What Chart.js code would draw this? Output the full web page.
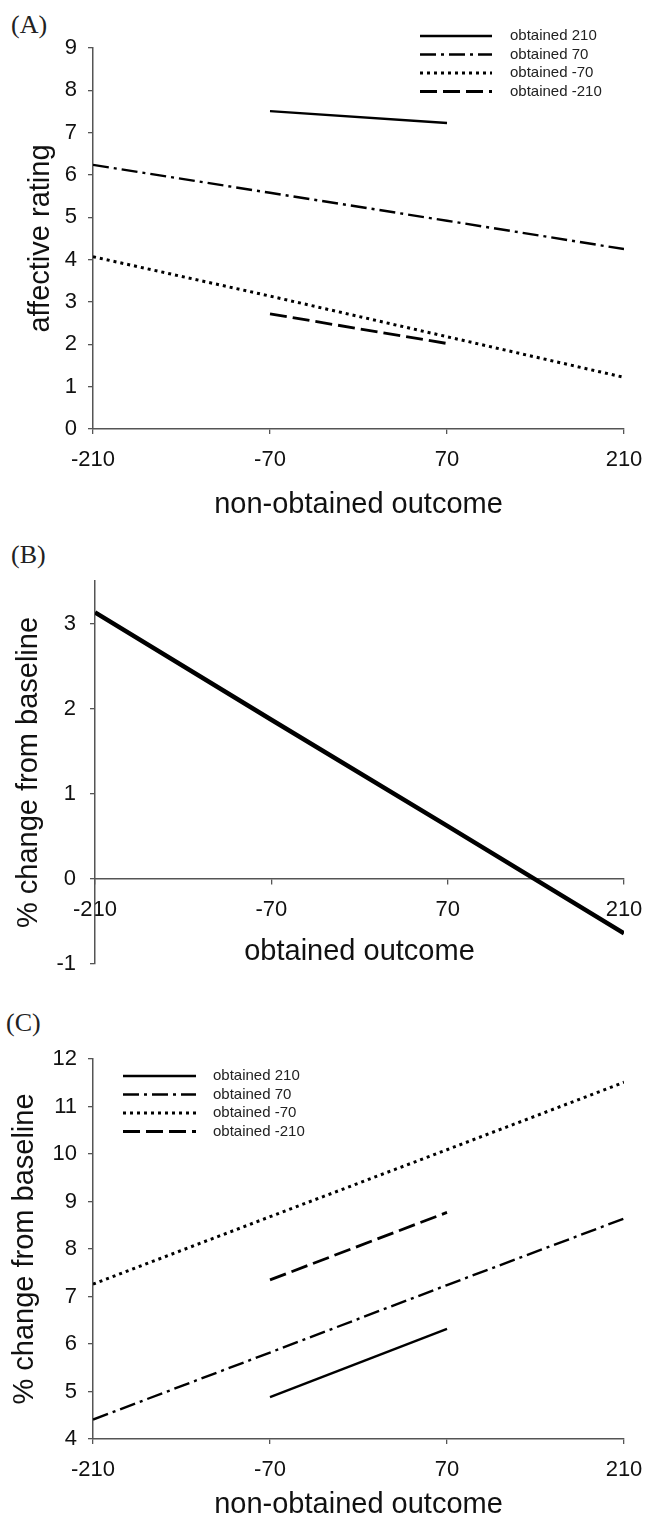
<!DOCTYPE html>
<html>
<head>
<meta charset="utf-8">
<script src="https://cdn.jsdelivr.net/npm/chart.js@4.4.1/dist/chart.umd.min.js"></script>
<style>
  body { margin: 0; background: #fff; width: 645px; height: 1526px; position: relative; overflow: hidden; }
  canvas { position: absolute; left: 0; }
  .tag { position: absolute; font-family: "Liberation Serif", serif; font-size: 26px; line-height: 26px; color: #222; }
</style>
</head>
<body>
<div class="tag" style="left:11px;top:12px">(A)</div>
<div class="tag" style="left:11px;top:542px">(B)</div>
<div class="tag" style="left:6px;top:1010px">(C)</div>
<canvas id="chartA" width="645" height="520" style="top:0"></canvas>
<canvas id="chartB" width="645" height="480" style="top:520px"></canvas>
<canvas id="chartC" width="645" height="526" style="top:1000px"></canvas>
<script>
// outcomes on the x axis
const xTicks = [-210, -70, 70, 210];
const seriesLabels = ["obtained 210", "obtained 70", "obtained -70", "obtained -210"];

// (A) affective rating vs non-obtained outcome
const ratingObt210 = [null, 7.51, 7.23, null];
const ratingObt70 = [6.24, 5.58, 4.92, 4.25];
const ratingObtM70 = [4.07, 3.14, 2.18, 1.22];
const ratingObtM210 = [null, 2.72, 2.02, null];
const yTicksA = [0, 1, 2, 3, 4, 5, 6, 7, 8, 9];

// (B) % change from baseline vs obtained outcome
const changeByObtained = [3.13, 1.87, 0.62, -0.64];
const yTicksB = [-1, 0, 1, 2, 3];

// (C) % change from baseline vs non-obtained outcome
const changeObt210 = [null, 4.88, 6.32, null];
const changeObt70 = [4.41, 5.82, 7.24, 8.64];
const changeObtM70 = [7.26, 8.68, 10.09, 11.51];
const changeObtM210 = [null, 7.35, 8.77, null];
const yTicksC = [4, 5, 6, 7, 8, 9, 10, 11, 12];

const axisColor = '#555';
const textColor = '#111';
Chart.defaults.font.family = '"Liberation Sans", Arial, sans-serif';
Chart.defaults.animation = false;

// solid, dash-dot, dotted, dashed
const lineDash = [[], [16, 5, 3, 5], [3, 4], [17, 6]];
const lineWidth = [2.4, 2.4, 3, 2.8];

function points(values) {
  return values.map((v, i) => ({x: xTicks[i], y: v}));
}

function fourLines(series) {
  return series.map((vals, i) => ({
    label: seriesLabels[i],
    data: points(vals),
    borderColor: '#000',
    borderWidth: lineWidth[i],
    borderDash: lineDash[i],
    pointRadius: 0,
    tension: 0,
    fill: false
  }));
}

const lineLegend = {
  id: 'lineLegend',
  afterDraw(chart, args, opts) {
    if (!opts.show) return;
    const ctx = chart.ctx;
    ctx.save();
    chart.data.datasets.forEach((ds, i) => {
      const y = opts.y + i * opts.rowH;
      ctx.beginPath();
      ctx.setLineDash(ds.borderDash);
      ctx.lineWidth = ds.borderWidth;
      ctx.strokeStyle = ds.borderColor;
      ctx.moveTo(opts.x, y);
      ctx.lineTo(opts.x + opts.len, y);
      ctx.stroke();
      ctx.setLineDash([]);
      ctx.fillStyle = '#222';
      ctx.font = '15px "Liberation Sans"';
      ctx.textBaseline = 'middle';
      ctx.fillText(ds.label, opts.x + opts.len + opts.gap, y);
    });
    ctx.restore();
  }
};

function xAxis(text, height, titleBottom, position) {
  return {
    type: 'linear', min: -210, max: 210,
    position: position || 'bottom',
    afterBuildTicks: s => { s.ticks = xTicks.map(v => ({value: v})); },
    afterFit: s => {
      s.height = height;
      // let layout.padding decide the side margins
      s.paddingLeft = 0;
      s.paddingRight = 0;
    },
    grid: {display: true, drawOnChartArea: false, drawTicks: true, tickLength: 5, color: axisColor, lineWidth: 1.3},
    border: {display: true, color: axisColor, width: 1.5},
    ticks: {padding: 13, color: textColor, font: {size: 22}, maxRotation: 0},
    title: {display: true, text: text, color: textColor, font: {size: 29}, padding: {top: 0, bottom: titleBottom}}
  };
}

function yAxis(min, max, tickValues, text, width, titleTop, tickPad) {
  return {
    type: 'linear', min: min, max: max,
    afterBuildTicks: s => { s.ticks = tickValues.map(v => ({value: v})); },
    afterFit: s => { s.width = width; },
    grid: {display: true, drawOnChartArea: false, drawTicks: true, tickLength: 5, color: axisColor, lineWidth: 1.3},
    border: {display: true, color: axisColor, width: 1.5},
    ticks: {padding: tickPad, color: textColor, font: {size: 22}},
    title: {display: true, text: text, color: textColor, font: {size: 29}, padding: {top: titleTop, bottom: 0}}
  };
}

new Chart(document.getElementById('chartA'), {
  type: 'line',
  data: {datasets: fourLines([ratingObt210, ratingObt70, ratingObtM70, ratingObtM210])},
  plugins: [lineLegend],
  options: {
    responsive: false,
    layout: {padding: {top: 48, right: 21, bottom: 0, left: 0}},
    scales: {
      x: xAxis('non-obtained outcome', 91, -2),
      y: yAxis(0, 9, yTicksA, 'affective rating', 93, 24, 11)
    },
    plugins: {
      legend: {display: false},
      tooltip: {enabled: false},
      lineLegend: {show: true, x: 420, y: 36, rowH: 18.5, len: 72, gap: 18}
    }
  }
});

new Chart(document.getElementById('chartB'), {
  type: 'line',
  data: {datasets: [{
    label: 'obtained outcome',
    data: points(changeByObtained),
    borderColor: '#000',
    borderWidth: 4.5,
    pointRadius: 0,
    tension: 0,
    fill: false
  }]},
  options: {
    responsive: false,
    layout: {padding: {top: 61, right: 21, bottom: 36, left: 0}},
    scales: {
      x: xAxis('obtained outcome', 91, 0, {y: 0}),
      y: yAxis(-1, 3.5, yTicksB, '% change from baseline', 95, 12, 14)
    },
    plugins: {legend: {display: false}, tooltip: {enabled: false}}
  }
});

new Chart(document.getElementById('chartC'), {
  type: 'line',
  data: {datasets: fourLines([changeObt210, changeObt70, changeObtM70, changeObtM210])},
  plugins: [lineLegend],
  options: {
    responsive: false,
    layout: {padding: {top: 59, right: 21, bottom: 0, left: 0}},
    scales: {
      x: xAxis('non-obtained outcome', 87, 4),
      y: yAxis(4, 12, yTicksC, '% change from baseline', 93, 8, 11)
    },
    plugins: {
      legend: {display: false},
      tooltip: {enabled: false},
      lineLegend: {show: true, x: 123, y: 76, rowH: 18.5, len: 73, gap: 17}
    }
  }
});
</script>
</body>
</html>
